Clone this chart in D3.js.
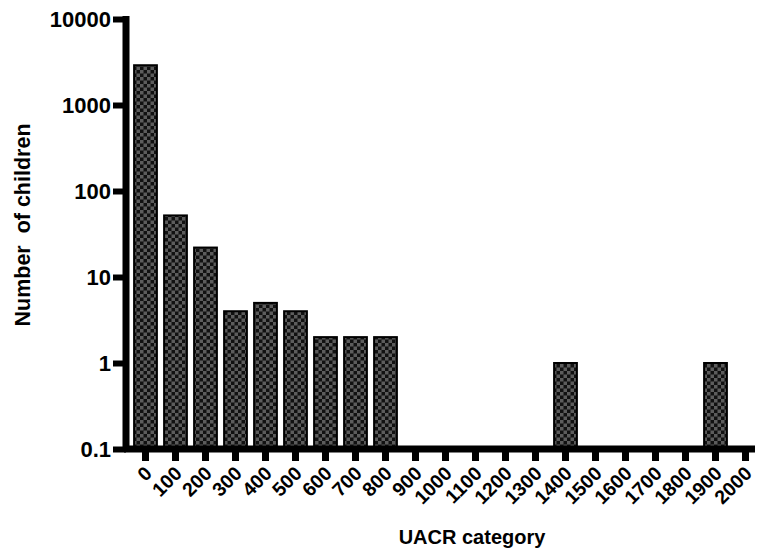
<!DOCTYPE html>
<html>
<head>
<meta charset="utf-8">
<script src="https://cdn.jsdelivr.net/npm/d3@7"></script>
<style>
  body { margin: 0; background: #fff; }
  text { font-family: "Liberation Sans", Arial, sans-serif; font-weight: bold; }
</style>
</head>
<body>
<svg id="chart" width="757" height="553"></svg>
<script>
// UACR categories and counts (0 = no bar drawn on log scale)
var categories = ["0","100","200","300","400","500","600","700","800","900","1000",
                  "1100","1200","1300","1400","1500","1600","1700","1800","1900","2000"];
var counts = [2900, 52, 22, 4, 5, 4, 2, 2, 2, 0, 0, 0, 0, 0, 1, 0, 0, 0, 0, 1, 0];
var yTicks = [0.1, 1, 10, 100, 1000, 10000];

var svg = d3.select("#chart");

// pattern for the checkered bars
var defs = svg.append("defs");
var pat = defs.append("pattern")
    .attr("id", "checker")
    .attr("patternUnits", "userSpaceOnUse")
    .attr("width", 7).attr("height", 7);
pat.append("rect").attr("width", 7).attr("height", 7).attr("fill", "#111");
pat.append("rect").attr("x", 0).attr("y", 0).attr("width", 3.5).attr("height", 3.5).attr("fill", "#5c5c5c");
pat.append("rect").attr("x", 3.5).attr("y", 3.5).attr("width", 3.5).attr("height", 3.5).attr("fill", "#5c5c5c");

var x = d3.scaleBand().domain(categories).range([130.5, 760.5]).paddingInner(0.24).paddingOuter(0.12);
var y = d3.scaleLog().domain([0.1, 10000]).range([449, 19]);

var data = categories.map(function(c, i) { return {cat: c, n: counts[i]}; });

// bars
svg.selectAll("rect.bar")
    .data(data.filter(function(d) { return d.n > 0; }))
    .enter()
    .append("rect")
    .attr("class", "bar")
    .attr("x", function(d) { return x(d.cat); })
    .attr("width", x.bandwidth())
    .attr("y", function(d) { return y(d.n); })
    .attr("height", function(d) { return y(0.1) - y(d.n); })
    .attr("fill", "url(#checker)")
    .attr("stroke", "#000")
    .attr("stroke-width", 2);

// x axis
var xAxis = svg.append("g")
    .attr("transform", "translate(0,449)")
    .call(d3.axisBottom(x).tickSize(12).tickSizeOuter(0));
xAxis.select(".domain").remove();
xAxis.selectAll(".tick line").attr("stroke", "#000").attr("stroke-width", 7);
xAxis.selectAll(".tick text")
    .attr("fill", "#000")
    .style("font-size", "19.5px")
    .attr("text-anchor", "end")
    .attr("x", 0).attr("y", 0)
    .attr("dy", "0.7em")
    .attr("transform", "translate(-2,16) rotate(-45)");
svg.append("line")
    .attr("x1", 124).attr("x2", 755)
    .attr("y1", 449).attr("y2", 449)
    .attr("stroke", "#000").attr("stroke-width", 7);

// y axis
var yAxis = svg.append("g")
    .attr("transform", "translate(126,0)")
    .call(d3.axisLeft(y).tickValues(yTicks).tickFormat(d3.format("~g")).tickSize(13).tickSizeOuter(0));
yAxis.select(".domain").remove();
yAxis.selectAll(".tick line").attr("stroke", "#000").attr("stroke-width", 6);
yAxis.selectAll(".tick text")
    .attr("fill", "#000")
    .style("font-size", "22px")
    .attr("x", -15)
    .attr("dy", "0.36em");
svg.append("line")
    .attr("x1", 126).attr("x2", 126)
    .attr("y1", 16).attr("y2", 452)
    .attr("stroke", "#000").attr("stroke-width", 7);

// axis titles
svg.append("text")
    .attr("x", 472).attr("y", 544)
    .attr("text-anchor", "middle")
    .style("font-size", "20px")
    .text("UACR category");

svg.append("text")
    .attr("transform", "translate(30,225) rotate(-90)")
    .attr("text-anchor", "middle")
    .style("font-size", "21.5px")
    .style("white-space", "pre")
    .text("Number  of children");
</script>
</body>
</html>
